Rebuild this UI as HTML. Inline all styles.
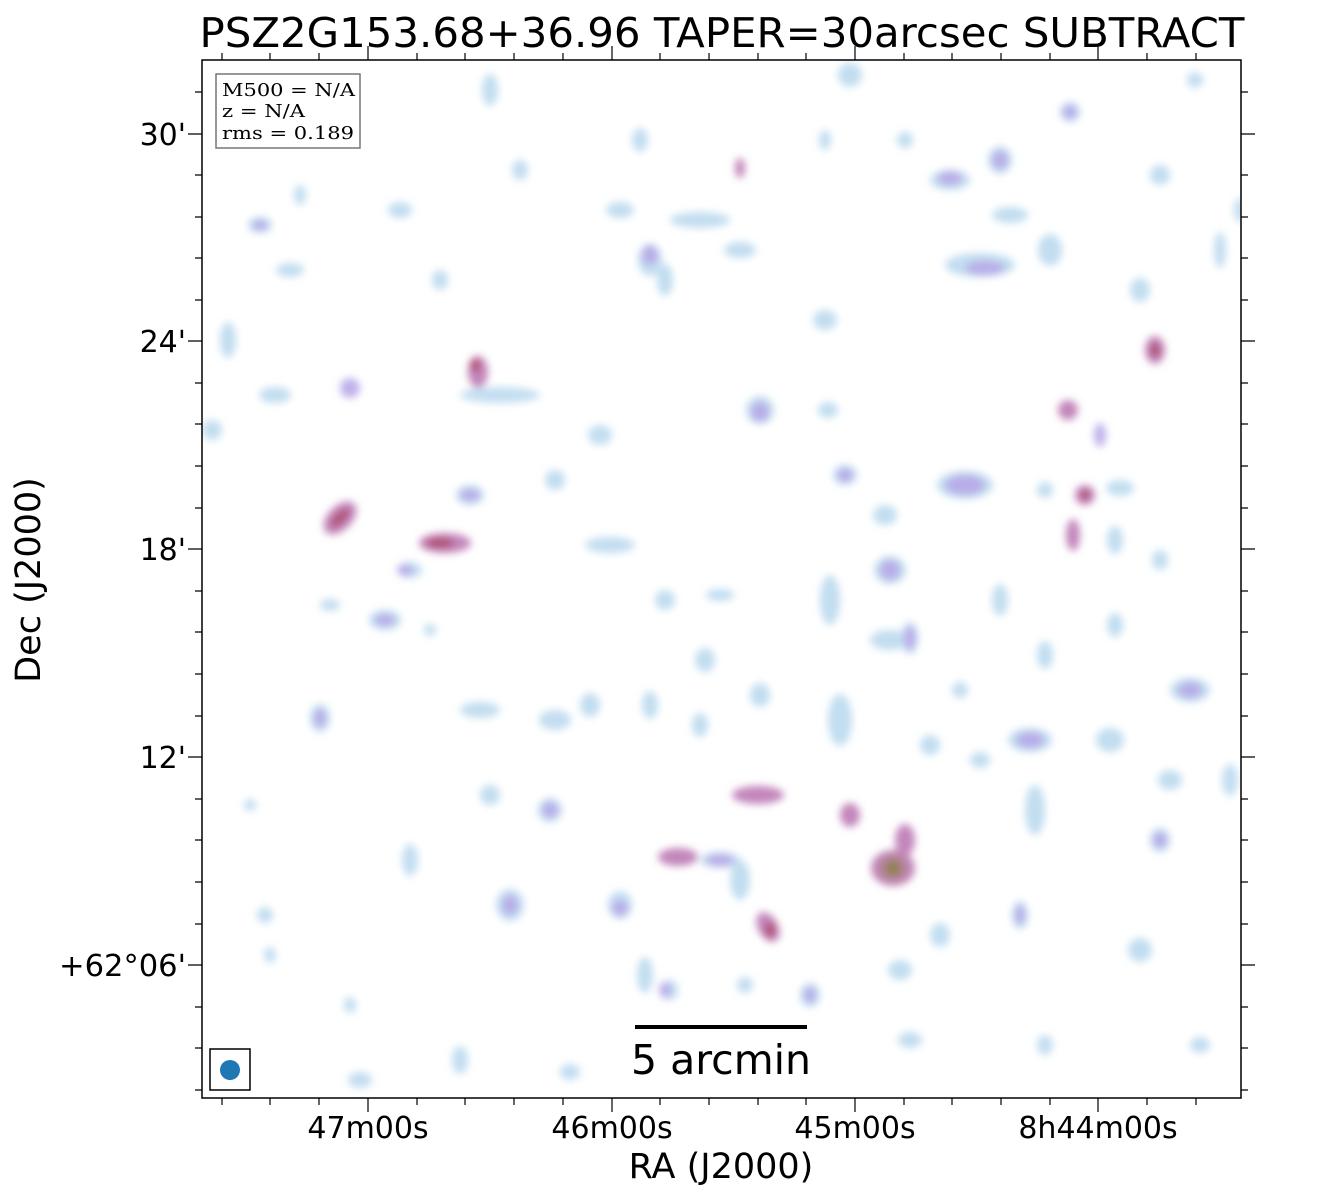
<!DOCTYPE html>
<html><head><meta charset="utf-8"><style>
html,body{margin:0;padding:0;background:#fff;}
svg{display:block;font-family:"DejaVu Sans","Liberation Sans",sans-serif;}
</style></head><body>
<svg width="1321" height="1200" viewBox="0 0 1321 1200" xmlns="http://www.w3.org/2000/svg">
<defs>
<filter id="b" x="-50%" y="-50%" width="200%" height="200%"><feGaussianBlur stdDeviation="4"/></filter>
<clipPath id="c"><rect x="202" y="60" width="1039" height="1038"/></clipPath>
</defs>
<rect width="1321" height="1200" fill="#fff"/>
<g clip-path="url(#c)" filter="url(#b)">
<g fill="#b8d8ee" opacity="0.85">
<ellipse cx="260" cy="225" rx="12" ry="8"/><ellipse cx="290" cy="270" rx="14" ry="7"/><ellipse cx="275" cy="395" rx="16" ry="8"/>
<ellipse cx="228" cy="340" rx="8" ry="18"/><ellipse cx="212" cy="430" rx="10" ry="10"/><ellipse cx="400" cy="210" rx="12" ry="8"/>
<ellipse cx="490" cy="90" rx="8" ry="16"/><ellipse cx="520" cy="170" rx="8" ry="10"/><ellipse cx="620" cy="210" rx="14" ry="8"/>
<ellipse cx="700" cy="220" rx="30" ry="8"/><ellipse cx="740" cy="250" rx="16" ry="8"/><ellipse cx="650" cy="260" rx="12" ry="16"/>
<ellipse cx="665" cy="280" rx="8" ry="16"/><ellipse cx="825" cy="320" rx="12" ry="10"/><ellipse cx="850" cy="75" rx="12" ry="12"/>
<ellipse cx="950" cy="180" rx="20" ry="10"/><ellipse cx="1000" cy="160" rx="12" ry="14"/><ellipse cx="1010" cy="215" rx="18" ry="8"/>
<ellipse cx="980" cy="265" rx="35" ry="12"/><ellipse cx="1050" cy="250" rx="12" ry="16"/><ellipse cx="1070" cy="112" rx="10" ry="10"/>
<ellipse cx="1140" cy="290" rx="10" ry="12"/><ellipse cx="1220" cy="250" rx="6" ry="18"/><ellipse cx="1195" cy="80" rx="8" ry="8"/>
<ellipse cx="500" cy="395" rx="40" ry="8"/><ellipse cx="470" cy="495" rx="14" ry="10"/><ellipse cx="555" cy="480" rx="10" ry="10"/>
<ellipse cx="610" cy="545" rx="25" ry="8"/><ellipse cx="600" cy="435" rx="12" ry="10"/><ellipse cx="760" cy="410" rx="14" ry="14"/>
<ellipse cx="828" cy="410" rx="10" ry="8"/><ellipse cx="845" cy="475" rx="12" ry="10"/><ellipse cx="885" cy="515" rx="12" ry="10"/>
<ellipse cx="890" cy="570" rx="16" ry="14"/><ellipse cx="830" cy="600" rx="10" ry="25"/><ellipse cx="890" cy="640" rx="20" ry="10"/>
<ellipse cx="910" cy="638" rx="8" ry="16"/><ellipse cx="965" cy="485" rx="28" ry="14"/><ellipse cx="1045" cy="490" rx="8" ry="8"/>
<ellipse cx="1115" cy="540" rx="8" ry="14"/><ellipse cx="1160" cy="560" rx="8" ry="10"/><ellipse cx="1120" cy="488" rx="14" ry="8"/>
<ellipse cx="1000" cy="600" rx="8" ry="16"/><ellipse cx="1045" cy="655" rx="8" ry="14"/><ellipse cx="1115" cy="625" rx="8" ry="12"/>
<ellipse cx="1190" cy="690" rx="20" ry="12"/><ellipse cx="1030" cy="740" rx="22" ry="12"/><ellipse cx="1110" cy="740" rx="14" ry="12"/>
<ellipse cx="1170" cy="780" rx="12" ry="10"/><ellipse cx="1230" cy="780" rx="8" ry="16"/><ellipse cx="1160" cy="840" rx="10" ry="12"/>
<ellipse cx="1035" cy="810" rx="10" ry="25"/><ellipse cx="1020" cy="915" rx="8" ry="14"/><ellipse cx="1140" cy="950" rx="12" ry="12"/>
<ellipse cx="1200" cy="1045" rx="10" ry="8"/><ellipse cx="1045" cy="1045" rx="8" ry="10"/><ellipse cx="910" cy="1040" rx="12" ry="8"/>
<ellipse cx="385" cy="620" rx="16" ry="10"/><ellipse cx="410" cy="570" rx="12" ry="8"/><ellipse cx="330" cy="605" rx="10" ry="6"/>
<ellipse cx="320" cy="718" rx="10" ry="14"/><ellipse cx="480" cy="710" rx="20" ry="8"/><ellipse cx="555" cy="720" rx="16" ry="10"/>
<ellipse cx="590" cy="705" rx="10" ry="12"/><ellipse cx="665" cy="600" rx="10" ry="10"/><ellipse cx="720" cy="595" rx="14" ry="6"/>
<ellipse cx="705" cy="660" rx="10" ry="12"/><ellipse cx="650" cy="705" rx="8" ry="14"/><ellipse cx="700" cy="725" rx="8" ry="12"/>
<ellipse cx="760" cy="695" rx="10" ry="12"/><ellipse cx="840" cy="720" rx="12" ry="26"/><ellipse cx="960" cy="690" rx="8" ry="8"/>
<ellipse cx="930" cy="745" rx="10" ry="10"/><ellipse cx="980" cy="760" rx="10" ry="8"/><ellipse cx="490" cy="795" rx="10" ry="10"/>
<ellipse cx="550" cy="810" rx="12" ry="12"/><ellipse cx="410" cy="860" rx="8" ry="16"/><ellipse cx="510" cy="905" rx="14" ry="16"/>
<ellipse cx="620" cy="905" rx="12" ry="14"/><ellipse cx="720" cy="860" rx="20" ry="8"/><ellipse cx="740" cy="880" rx="10" ry="20"/>
<ellipse cx="645" cy="975" rx="8" ry="18"/><ellipse cx="670" cy="990" rx="8" ry="10"/><ellipse cx="745" cy="985" rx="8" ry="8"/>
<ellipse cx="810" cy="995" rx="10" ry="12"/><ellipse cx="900" cy="970" rx="12" ry="10"/><ellipse cx="940" cy="935" rx="10" ry="12"/>
<ellipse cx="460" cy="1060" rx="8" ry="14"/><ellipse cx="570" cy="1072" rx="10" ry="8"/><ellipse cx="360" cy="1080" rx="12" ry="8"/>
<ellipse cx="350" cy="1005" rx="6" ry="8"/><ellipse cx="265" cy="915" rx="8" ry="8"/><ellipse cx="250" cy="805" rx="6" ry="6"/>
<ellipse cx="270" cy="955" rx="6" ry="8"/><ellipse cx="430" cy="630" rx="6" ry="6"/><ellipse cx="640" cy="140" rx="8" ry="12"/>
<ellipse cx="825" cy="140" rx="6" ry="10"/><ellipse cx="905" cy="140" rx="8" ry="8"/><ellipse cx="1160" cy="175" rx="10" ry="10"/>
<ellipse cx="300" cy="195" rx="6" ry="10"/><ellipse cx="440" cy="280" rx="8" ry="10"/><ellipse cx="1240" cy="210" rx="6" ry="12"/>
</g>
<g fill="#b8a8e8" opacity="0.9">
<ellipse cx="260" cy="225" rx="8" ry="5"/><ellipse cx="650" cy="255" rx="8" ry="10"/><ellipse cx="950" cy="178" rx="12" ry="7"/>
<ellipse cx="985" cy="268" rx="20" ry="7"/><ellipse cx="760" cy="412" rx="9" ry="10"/><ellipse cx="845" cy="475" rx="8" ry="7"/>
<ellipse cx="890" cy="570" rx="10" ry="10"/><ellipse cx="965" cy="485" rx="20" ry="10"/><ellipse cx="1190" cy="690" rx="12" ry="8"/>
<ellipse cx="1030" cy="740" rx="14" ry="8"/><ellipse cx="550" cy="810" rx="8" ry="8"/><ellipse cx="510" cy="905" rx="8" ry="10"/>
<ellipse cx="620" cy="908" rx="8" ry="8"/><ellipse cx="720" cy="860" rx="14" ry="6"/><ellipse cx="385" cy="620" rx="10" ry="6"/>
<ellipse cx="470" cy="495" rx="10" ry="6"/><ellipse cx="350" cy="388" rx="10" ry="10"/><ellipse cx="320" cy="718" rx="6" ry="9"/>
<ellipse cx="1070" cy="112" rx="7" ry="7"/><ellipse cx="1000" cy="160" rx="8" ry="9"/><ellipse cx="1100" cy="435" rx="6" ry="12"/>
<ellipse cx="910" cy="638" rx="6" ry="12"/><ellipse cx="1160" cy="840" rx="7" ry="8"/><ellipse cx="1020" cy="915" rx="5" ry="10"/>
<ellipse cx="665" cy="990" rx="6" ry="8"/><ellipse cx="810" cy="995" rx="6" ry="8"/><ellipse cx="405" cy="570" rx="8" ry="6"/>
</g>
<g fill="#c080b8" opacity="0.95">
<ellipse cx="340" cy="518" rx="12" ry="20" transform="rotate(45 340 518)"/>
<ellipse cx="445" cy="543" rx="26" ry="10"/>
<ellipse cx="478" cy="372" rx="10" ry="16"/>
<ellipse cx="758" cy="795" rx="26" ry="9"/>
<ellipse cx="678" cy="857" rx="20" ry="9"/>
<ellipse cx="768" cy="927" rx="10" ry="16" transform="rotate(-30 768 927)"/>
<ellipse cx="850" cy="815" rx="10" ry="12"/>
<ellipse cx="905" cy="840" rx="10" ry="16"/>
<ellipse cx="893" cy="868" rx="22" ry="18"/>
<ellipse cx="1155" cy="350" rx="10" ry="14"/>
<ellipse cx="1068" cy="410" rx="10" ry="10"/>
<ellipse cx="1085" cy="495" rx="10" ry="10"/>
<ellipse cx="1073" cy="535" rx="7" ry="16"/>
<ellipse cx="740" cy="168" rx="5" ry="10"/>
</g>
<g fill="#b05070">
<ellipse cx="340" cy="518" rx="5" ry="12" transform="rotate(45 340 518)"/>
<ellipse cx="440" cy="543" rx="14" ry="5"/>
<ellipse cx="475" cy="365" rx="5" ry="7"/>
<ellipse cx="1155" cy="350" rx="5" ry="7"/>
<ellipse cx="1085" cy="495" rx="5" ry="5"/>
<ellipse cx="770" cy="930" rx="5" ry="8"/>
</g>
<ellipse cx="893" cy="868" rx="10" ry="9" fill="#8a8040" filter="url(#b)"/>
</g>
<rect x="202" y="60" width="1039" height="1038" fill="none" stroke="#000" stroke-width="1.5"/>
<g stroke="#000" stroke-width="1.2">
<path d="M188 134H202M188 341H202M188 549H202M188 757H202M188 965H202M1241 134H1255M1241 341H1255M1241 549H1255M1241 757H1255M1241 965H1255"/>
<path d="M195 92H202M195 175H202M195 217H202M195 258H202M195 300H202M195 383H202M195 424H202M195 466H202M195 508H202M195 591H202M195 632H202M195 674H202M195 716H202M195 799H202M195 840H202M195 882H202M195 924H202M195 1007H202M195 1048H202M195 1090H202
M1241 92H1248M1241 175H1248M1241 217H1248M1241 258H1248M1241 300H1248M1241 383H1248M1241 424H1248M1241 466H1248M1241 508H1248M1241 591H1248M1241 632H1248M1241 674H1248M1241 716H1248M1241 799H1248M1241 840H1248M1241 882H1248M1241 924H1248M1241 1007H1248M1241 1048H1248M1241 1090H1248"/>
<path d="M368 1098V1112M612 1098V1112M855 1098V1112M1098 1098V1112M368 46V60M612 46V60M855 46V60M1098 46V60"/>
<path d="M222 1098V1105M270 1098V1105M319 1098V1105M417 1098V1105M465 1098V1105M514 1098V1105M563 1098V1105M660 1098V1105M709 1098V1105M758 1098V1105M806 1098V1105M904 1098V1105M952 1098V1105M1001 1098V1105M1050 1098V1105M1147 1098V1105M1196 1098V1105
M222 53V60M270 53V60M319 53V60M417 53V60M465 53V60M514 53V60M563 53V60M660 53V60M709 53V60M758 53V60M806 53V60M904 53V60M952 53V60M1001 53V60M1050 53V60M1147 53V60M1196 53V60"/>
</g>
<g font-size="30" fill="#000">
<text x="186" y="145" text-anchor="end">30'</text>
<text x="186" y="352" text-anchor="end">24'</text>
<text x="186" y="560" text-anchor="end">18'</text>
<text x="186" y="768" text-anchor="end">12'</text>
<text x="186" y="976" text-anchor="end" textLength="127" lengthAdjust="spacingAndGlyphs">+62°06'</text>
<text x="368" y="1138" text-anchor="middle">47m00s</text>
<text x="612" y="1138" text-anchor="middle">46m00s</text>
<text x="855" y="1138" text-anchor="middle">45m00s</text>
<text x="1098" y="1138" text-anchor="middle">8h44m00s</text>
</g>
<text x="721" y="1178" font-size="35" text-anchor="middle">RA (J2000)</text>
<text x="40" y="580" font-size="35" text-anchor="middle" transform="rotate(-90 40 580)">Dec (J2000)</text>
<text x="722" y="47" font-size="41" text-anchor="middle" textLength="1045" lengthAdjust="spacingAndGlyphs">PSZ2G153.68+36.96 TAPER=30arcsec SUBTRACT</text>
<rect x="216" y="74" width="144" height="74" fill="#fff" stroke="#777" stroke-width="1.5"/>
<g font-family="'DejaVu Serif','Liberation Serif',serif" font-size="18">
<text x="222" y="96" textLength="133" lengthAdjust="spacingAndGlyphs">M500 = N/A</text>
<text x="222" y="117" textLength="83" lengthAdjust="spacingAndGlyphs">z = N/A</text>
<text x="222" y="139" textLength="132" lengthAdjust="spacingAndGlyphs">rms = 0.189</text>
</g>
<line x1="635" y1="1027" x2="807" y2="1027" stroke="#000" stroke-width="4"/>
<text x="721" y="1074" font-size="41" text-anchor="middle">5 arcmin</text>
<rect x="210" y="1049" width="40" height="41" fill="#fff" stroke="#000" stroke-width="1.5"/>
<circle cx="230" cy="1070" r="10" fill="#1f77b4"/>
</svg>
</body></html>
